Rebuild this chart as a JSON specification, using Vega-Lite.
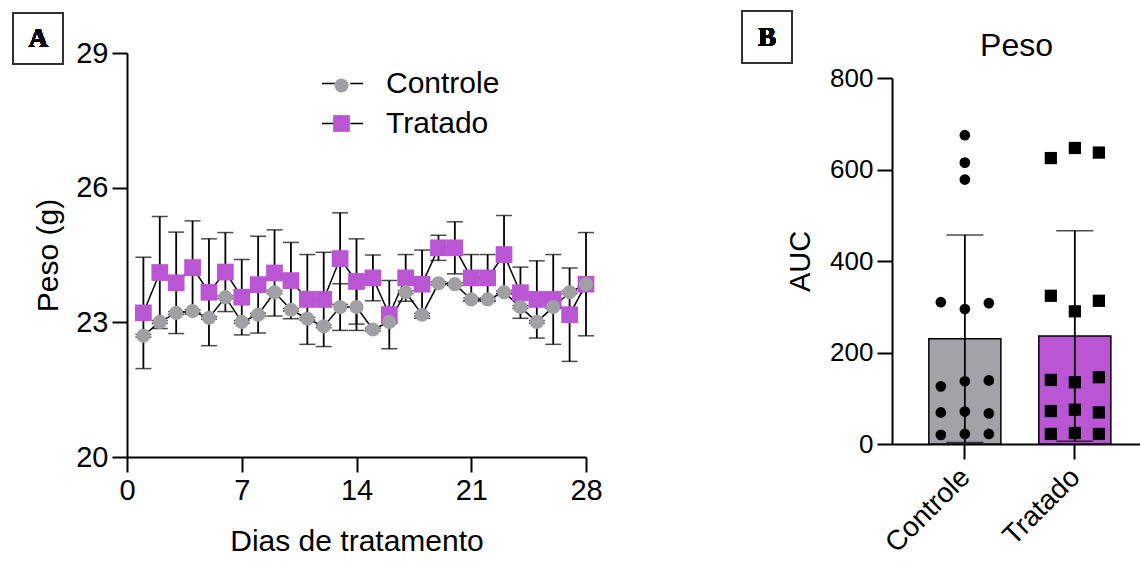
{
  "$schema": "https://vega.github.io/schema/vega-lite/v6.json",
  "padding": {"left": 12, "top": 10, "right": 0, "bottom": 0},
  "bounds": "flush",
  "spacing": 306,
  "background": "white",
  "config": {
    "font": "Liberation Sans",
    "view": {"stroke": null},
    "axis": {
      "grid": false,
      "domainColor": "black",
      "domainWidth": 2,
      "tickColor": "black",
      "tickWidth": 2,
      "tickSize": 15,
      "labelColor": "black",
      "titleColor": "black",
      "labelFont": "Liberation Sans",
      "titleFont": "Liberation Sans",
      "titleFontWeight": "normal",
      "labelFlush": false,
      "labelOverlap": false
    },
    "legend": {"labelFont": "Liberation Sans", "labelColor": "black", "padding": 0}
  },
  "resolve": {
    "scale": {"color": "independent", "shape": "independent", "size": "independent", "stroke": "independent"},
    "legend": {"color": "independent", "shape": "independent", "size": "independent", "stroke": "independent"}
  },
  "hconcat": [
    {
      "width": 459,
      "height": 404,
      "data": {
        "values": [
          {"dia": 1, "grupo": "Controle", "media": 22.70, "dp": 0.03},
          {"dia": 2, "grupo": "Controle", "media": 23.01, "dp": 0.03},
          {"dia": 3, "grupo": "Controle", "media": 23.21, "dp": 0.03},
          {"dia": 4, "grupo": "Controle", "media": 23.25, "dp": 0.03},
          {"dia": 5, "grupo": "Controle", "media": 23.10, "dp": 0.03},
          {"dia": 6, "grupo": "Controle", "media": 23.56, "dp": 0.03},
          {"dia": 7, "grupo": "Controle", "media": 23.01, "dp": 0.03},
          {"dia": 8, "grupo": "Controle", "media": 23.17, "dp": 0.03},
          {"dia": 9, "grupo": "Controle", "media": 23.67, "dp": 0.03},
          {"dia": 10, "grupo": "Controle", "media": 23.28, "dp": 0.03},
          {"dia": 11, "grupo": "Controle", "media": 23.08, "dp": 0.03},
          {"dia": 12, "grupo": "Controle", "media": 22.91, "dp": 0.03},
          {"dia": 13, "grupo": "Controle", "media": 23.34, "dp": 0.52},
          {"dia": 14, "grupo": "Controle", "media": 23.34, "dp": 0.52},
          {"dia": 15, "grupo": "Controle", "media": 22.84, "dp": 0.03},
          {"dia": 16, "grupo": "Controle", "media": 23.01, "dp": 0.03},
          {"dia": 17, "grupo": "Controle", "media": 23.67, "dp": 0.03},
          {"dia": 18, "grupo": "Controle", "media": 23.17, "dp": 0.03},
          {"dia": 19, "grupo": "Controle", "media": 23.87, "dp": 0.03},
          {"dia": 20, "grupo": "Controle", "media": 23.85, "dp": 0.03},
          {"dia": 21, "grupo": "Controle", "media": 23.51, "dp": 0.03},
          {"dia": 22, "grupo": "Controle", "media": 23.51, "dp": 0.03},
          {"dia": 23, "grupo": "Controle", "media": 23.67, "dp": 0.03},
          {"dia": 24, "grupo": "Controle", "media": 23.34, "dp": 0.03},
          {"dia": 25, "grupo": "Controle", "media": 23.01, "dp": 0.03},
          {"dia": 26, "grupo": "Controle", "media": 23.34, "dp": 0.03},
          {"dia": 27, "grupo": "Controle", "media": 23.67, "dp": 0.03},
          {"dia": 28, "grupo": "Controle", "media": 23.85, "dp": 0.03},
          {"dia": 1, "grupo": "Tratado", "media": 23.21, "dp": 1.24},
          {"dia": 2, "grupo": "Tratado", "media": 24.11, "dp": 1.25},
          {"dia": 3, "grupo": "Tratado", "media": 23.88, "dp": 1.13},
          {"dia": 4, "grupo": "Tratado", "media": 24.22, "dp": 1.04},
          {"dia": 5, "grupo": "Tratado", "media": 23.67, "dp": 1.19},
          {"dia": 6, "grupo": "Tratado", "media": 24.12, "dp": 0.88},
          {"dia": 7, "grupo": "Tratado", "media": 23.56, "dp": 0.84},
          {"dia": 8, "grupo": "Tratado", "media": 23.84, "dp": 1.08},
          {"dia": 9, "grupo": "Tratado", "media": 24.10, "dp": 0.96},
          {"dia": 10, "grupo": "Tratado", "media": 23.93, "dp": 0.85},
          {"dia": 11, "grupo": "Tratado", "media": 23.51, "dp": 1.00},
          {"dia": 12, "grupo": "Tratado", "media": 23.51, "dp": 1.05},
          {"dia": 13, "grupo": "Tratado", "media": 24.42, "dp": 1.02},
          {"dia": 14, "grupo": "Tratado", "media": 23.91, "dp": 0.95},
          {"dia": 15, "grupo": "Tratado", "media": 23.99, "dp": 0.51},
          {"dia": 16, "grupo": "Tratado", "media": 23.17, "dp": 0.76},
          {"dia": 17, "grupo": "Tratado", "media": 23.99, "dp": 0.52},
          {"dia": 18, "grupo": "Tratado", "media": 23.85, "dp": 0.76},
          {"dia": 19, "grupo": "Tratado", "media": 24.66, "dp": 0.28},
          {"dia": 20, "grupo": "Tratado", "media": 24.66, "dp": 0.58},
          {"dia": 21, "grupo": "Tratado", "media": 23.99, "dp": 0.52},
          {"dia": 22, "grupo": "Tratado", "media": 23.99, "dp": 0.52},
          {"dia": 23, "grupo": "Tratado", "media": 24.51, "dp": 0.87},
          {"dia": 24, "grupo": "Tratado", "media": 23.66, "dp": 0.57},
          {"dia": 25, "grupo": "Tratado", "media": 23.51, "dp": 0.86},
          {"dia": 26, "grupo": "Tratado", "media": 23.51, "dp": 1.00},
          {"dia": 27, "grupo": "Tratado", "media": 23.17, "dp": 1.04},
          {"dia": 28, "grupo": "Tratado", "media": 23.85, "dp": 1.15}
        ]
      },
      "layer": [
        {
          "mark": {"type": "line", "strokeWidth": 1.5},
          "encoding": {
            "x": {
              "field": "dia", "type": "quantitative", "title": "Dias de tratamento",
              "scale": {"domain": [0, 28], "nice": false},
              "axis": {"values": [0, 7, 14, 21, 28], "labelFontSize": 29, "titleFontSize": 30, "labelPadding": 4, "titlePadding": 21}
            },
            "y": {
              "field": "media", "type": "quantitative", "title": "Peso (g)",
              "scale": {"domain": [20, 29], "nice": false, "zero": false},
              "axis": {"values": [20, 23, 26, 29], "labelFontSize": 29, "titleFontSize": 30, "labelPadding": 4, "titlePadding": 12}
            },
            "stroke": {
              "field": "grupo", "type": "nominal",
              "scale": {"domain": ["Controle", "Tratado"], "range": ["black", "black"]},
              "legend": {
                "orient": "none", "legendX": 194, "legendY": 9, "title": null,
                "symbolType": "M-1,0H-0.38M0.38,0H1", "symbolSize": 1681, "symbolStrokeWidth": 1.5,
                "labelFontSize": 30, "labelOffset": 22, "rowPadding": 3
              }
            }
          }
        },
        {
          "mark": {"type": "errorbar", "color": "black", "ticks": {"size": 16, "thickness": 1.5}, "rule": {"strokeWidth": 1.8}},
          "encoding": {
            "x": {"field": "dia", "type": "quantitative", "title": "Dias de tratamento"},
            "y": {"field": "media", "type": "quantitative", "title": "Peso (g)"},
            "yError": {"field": "dp"}
          }
        },
        {
          "mark": {"type": "point", "filled": true, "opacity": 1, "strokeWidth": 0},
          "encoding": {
            "x": {"field": "dia", "type": "quantitative", "title": "Dias de tratamento"},
            "y": {"field": "media", "type": "quantitative", "title": "Peso (g)"},
            "color": {
              "field": "grupo", "type": "nominal",
              "scale": {"range": ["#A09FA4", "#BA55D3"]},
              "legend": {
                "orient": "none", "legendX": 194, "legendY": 25, "title": null,
                "symbolSize": 250, "symbolOffset": 12, "symbolStrokeWidth": 0,
                "labelExpr": "''", "rowPadding": 22
              }
            },
            "shape": {
              "field": "grupo", "type": "nominal",
              "scale": {"range": ["circle", "square"]},
              "legend": {
                "orient": "none", "legendX": 194, "legendY": 25, "title": null,
                "symbolSize": 250, "symbolOffset": 12, "symbolStrokeWidth": 0,
                "labelExpr": "''", "rowPadding": 22
              }
            },
            "size": {"field": "grupo", "type": "nominal", "scale": {"range": [200, 280]}, "legend": null},
            "order": {"field": "grupo", "sort": "descending"}
          }
        },
        {
          "mark": {"type": "rect", "fill": "transparent", "stroke": "#333333", "strokeWidth": 1.3},
          "encoding": {"x": {"datum": -6.95}, "x2": {"datum": -3.89}, "y": {"datum": 29.898}, "y2": {"datum": 28.748}}
        },
        {
          "mark": {"type": "text", "text": "A", "font": "Liberation Serif", "fontWeight": "bold", "fontSize": 27, "color": "black"},
          "encoding": {"x": {"datum": -5.42}, "y": {"datum": 29.31}}
        },
        {
          "mark": {"type": "rect", "fill": "transparent", "stroke": "#333333", "strokeWidth": 1.3},
          "encoding": {"x": {"datum": 37.52}, "x2": {"datum": 40.55}, "y": {"datum": 29.935}, "y2": {"datum": 28.77}}
        },
        {
          "mark": {"type": "text", "text": "B", "font": "Liberation Serif", "fontWeight": "bold", "fontSize": 27, "color": "black"},
          "encoding": {"x": {"datum": 39.04}, "y": {"datum": 29.34}}
        }
      ]
    },
    {
      "width": 249,
      "height": 391,
      "title": {"text": "Peso", "fontSize": 32, "fontWeight": "normal", "color": "black", "font": "Liberation Sans", "frame": "group", "anchor": "middle", "offset": -35, "baseline": "alphabetic"},
      "resolve": {"scale": {"xOffset": "independent"}},
      "data": {
        "values": [
          {"grupo": "Controle", "coluna": 2, "auc": 675},
          {"grupo": "Controle", "coluna": 2, "auc": 615},
          {"grupo": "Controle", "coluna": 2, "auc": 578},
          {"grupo": "Controle", "coluna": 1, "auc": 310},
          {"grupo": "Controle", "coluna": 2, "auc": 295},
          {"grupo": "Controle", "coluna": 3, "auc": 308},
          {"grupo": "Controle", "coluna": 1, "auc": 126},
          {"grupo": "Controle", "coluna": 2, "auc": 137},
          {"grupo": "Controle", "coluna": 3, "auc": 139},
          {"grupo": "Controle", "coluna": 1, "auc": 69},
          {"grupo": "Controle", "coluna": 2, "auc": 71},
          {"grupo": "Controle", "coluna": 3, "auc": 67},
          {"grupo": "Controle", "coluna": 1, "auc": 20},
          {"grupo": "Controle", "coluna": 2, "auc": 22},
          {"grupo": "Controle", "coluna": 3, "auc": 22},
          {"grupo": "Tratado", "coluna": 1, "auc": 625},
          {"grupo": "Tratado", "coluna": 2, "auc": 647},
          {"grupo": "Tratado", "coluna": 3, "auc": 637},
          {"grupo": "Tratado", "coluna": 1, "auc": 324},
          {"grupo": "Tratado", "coluna": 2, "auc": 290},
          {"grupo": "Tratado", "coluna": 3, "auc": 313},
          {"grupo": "Tratado", "coluna": 1, "auc": 140},
          {"grupo": "Tratado", "coluna": 2, "auc": 135},
          {"grupo": "Tratado", "coluna": 3, "auc": 146},
          {"grupo": "Tratado", "coluna": 1, "auc": 72},
          {"grupo": "Tratado", "coluna": 2, "auc": 75},
          {"grupo": "Tratado", "coluna": 3, "auc": 69},
          {"grupo": "Tratado", "coluna": 1, "auc": 22},
          {"grupo": "Tratado", "coluna": 2, "auc": 24},
          {"grupo": "Tratado", "coluna": 3, "auc": 22}
        ]
      },
      "layer": [
        {
          "mark": {"type": "bar", "stroke": "black", "strokeWidth": 1.5},
          "encoding": {
            "x": {
              "field": "grupo", "type": "nominal", "title": null,
              "scale": {"paddingInner": 0.345, "paddingOuter": 0.3045, "align": 0.55},
              "axis": {"labelAngle": -45, "labelFontSize": 28, "labelPadding": 4, "labelOffset": -9}
            },
            "y": {
              "aggregate": "mean", "field": "auc", "type": "quantitative", "title": "AUC",
              "scale": {"domain": [0, 800], "range": [391, 25], "nice": false},
              "axis": {"values": [0, 200, 400, 600, 800], "titleFontSize": 29, "labelFontSize": 26, "labelPadding": 4, "titlePadding": 14}
            },
            "color": {"field": "grupo", "type": "nominal", "scale": {"range": ["#A3A2A7", "#BA55D3"]}, "legend": null}
          }
        },
        {
          "mark": {"type": "errorbar", "extent": "stdev", "color": "black", "ticks": {"size": 37, "thickness": 1.5}, "rule": {"strokeWidth": 1.8}},
          "encoding": {
            "x": {"field": "grupo", "type": "nominal", "title": null},
            "y": {"field": "auc", "type": "quantitative", "title": "AUC"}
          }
        },
        {
          "mark": {"type": "point", "filled": true, "opacity": 1, "strokeWidth": 0, "color": "black"},
          "encoding": {
            "x": {"field": "grupo", "type": "nominal", "title": null},
            "xOffset": {"field": "coluna", "type": "nominal"},
            "y": {"field": "auc", "type": "quantitative", "title": "AUC"},
            "shape": {"field": "grupo", "type": "nominal", "scale": {"range": ["circle", "square"]}, "legend": null},
            "size": {"field": "grupo", "type": "nominal", "scale": {"range": [115, 150]}, "legend": null}
          }
        }
      ]
    }
  ]
}
